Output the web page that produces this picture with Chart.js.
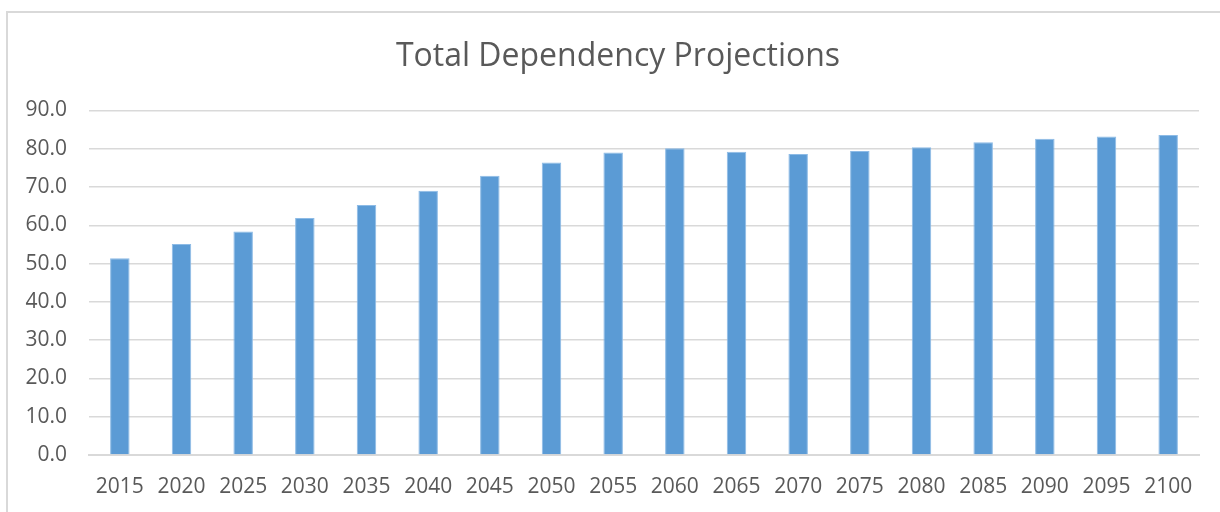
<!DOCTYPE html>
<html>
<head>
<meta charset="utf-8">
<script src="https://cdn.jsdelivr.net/npm/chart.js@4.4.0/dist/chart.umd.min.js"></script>
<style>
    html, body { margin: 0; padding: 0; background: #fff; }
    #wrap { position: relative; width: 1220px; height: 512px; overflow: hidden; }
    #frame { position: absolute; left: 6px; top: 11px; width: 1240px; height: 520px;
             border-left: 2px solid #D9D9D9; border-top: 2px solid #D9D9D9; }
    canvas { position: absolute; left: 0; top: 0; }
</style>
</head>
<body>
<div id="wrap">
    <div id="frame"></div>
    <canvas id="chart" width="1220" height="512"></canvas>
</div>
<script>
const years = ['2015', '2020', '2025', '2030', '2035', '2040', '2045', '2050', '2055',
               '2060', '2065', '2070', '2075', '2080', '2085', '2090', '2095', '2100'];
const dependency = [51.4, 55.1, 58.4, 61.9, 65.3, 69.0, 72.9, 76.4, 79.0,
                    80.1, 79.2, 78.6, 79.4, 80.4, 81.7, 82.6, 83.2, 83.6];
const yTicks = [0, 10, 20, 30, 40, 50, 60, 70, 80, 90];

const textColor = '#595959';
const gridColor = '#D9D9D9';
const fontFamily = '"Open Sans", "Noto Sans", sans-serif';

// title in the original sits a bit right of the canvas centre
const shiftTitle = {
    id: 'shiftTitle',
    afterLayout: (chart) => {
        if (chart.titleBlock) chart.titleBlock.left = 37;
    }
};

const ctx = document.getElementById('chart').getContext('2d');
new Chart(ctx, {
    type: 'bar',
    data: {
        labels: years,
        datasets: [{
            label: 'Total Dependency',
            data: dependency,
            backgroundColor: '#5B9BD5',
            borderColor: '#8DBBE6',
            borderWidth: 1,
            categoryPercentage: 1.0,
            barPercentage: 0.316
        }]
    },
    options: {
        responsive: false,
        animation: false,
        layout: { padding: { left: 0, right: 21, top: 11, bottom: 0 } },
        plugins: {
            legend: { display: false },
            tooltip: { enabled: false },
            title: {
                display: true,
                text: 'Total Dependency Projections',
                color: textColor,
                font: { family: fontFamily, size: 32, weight: 'normal', lineHeight: 1.2 },
                padding: { top: 27, bottom: 34 }
            }
        },
        scales: {
            x: {
                afterFit: (scale) => { scale.height = 57; },
                grid: { display: false, drawTicks: false },
                border: { display: true, color: gridColor, width: 2 },
                ticks: {
                    color: textColor,
                    padding: 19,
                    maxRotation: 0,
                    autoSkip: false,
                    font: { family: fontFamily, size: 21, lineHeight: 1.2 }
                }
            },
            y: {
                min: 0,
                max: 90,
                afterFit: (scale) => { scale.width = 89; },
                afterBuildTicks: (scale) => { scale.ticks = yTicks.map(v => ({ value: v })); },
                grid: { color: gridColor, lineWidth: 1.5, drawTicks: false },
                border: { display: false },
                ticks: {
                    color: textColor,
                    padding: 22,
                    font: { family: fontFamily, size: 21, lineHeight: 1.2 },
                    callback: (v) => Number(v).toFixed(1)
                }
            }
        }
    },
    plugins: [shiftTitle]
});
</script>
</body>
</html>
